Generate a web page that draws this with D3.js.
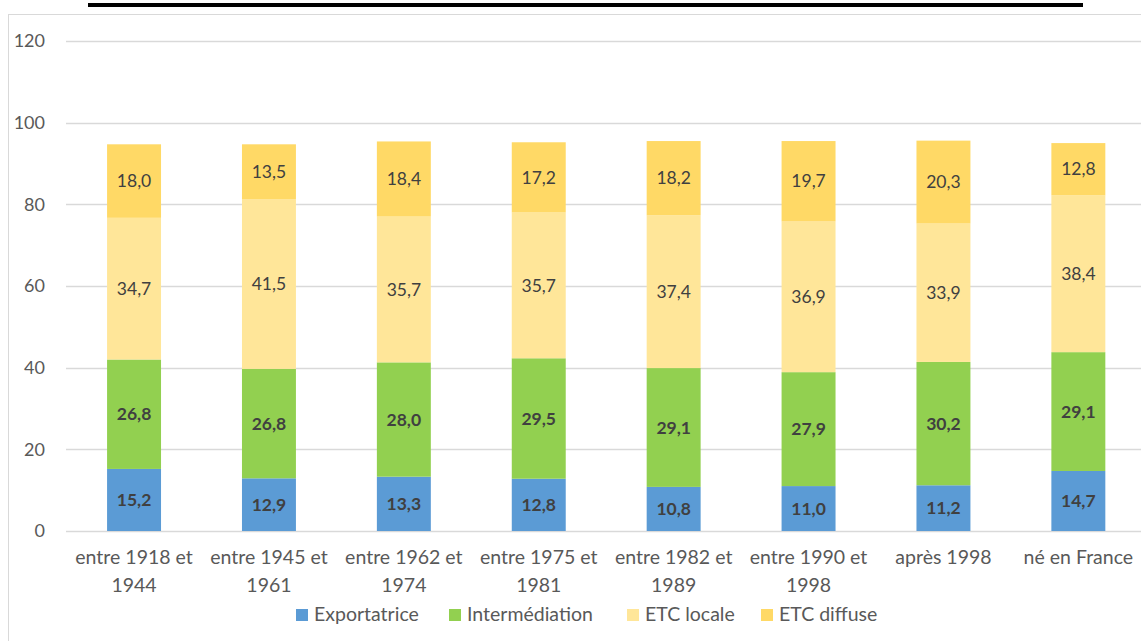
<!DOCTYPE html>
<html><head><meta charset="utf-8">
<script src="https://cdn.jsdelivr.net/npm/d3@7/dist/d3.min.js"></script>
<style>
html,body{margin:0;padding:0;background:#fff;}
svg{display:block;font-family:Lato, "Open Sans", sans-serif;}
</style></head>
<body><svg id="c" width="1141" height="641"></svg>
<script>
const categories = ["entre 1918 et 1944","entre 1945 et 1961","entre 1962 et 1974","entre 1975 et 1981","entre 1982 et 1989","entre 1990 et 1998","après 1998","né en France"];
const seriesNames = ["Exportatrice","Intermédiation","ETC locale","ETC diffuse"];
const exportatrice = [15.2,12.9,13.3,12.8,10.8,11.0,11.2,14.7];
const intermediation = [26.8,26.8,28.0,29.5,29.1,27.9,30.2,29.1];
const etcLocale = [34.7,41.5,35.7,35.7,37.4,36.9,33.9,38.4];
const etcDiffuse = [18.0,13.5,18.4,17.2,18.2,19.7,20.3,12.8];
const yTicks = [0,20,40,60,80,100,120];
const colors = ["#5B9BD5","#92D050","#FFE699","#FFD966"];
const boldLabels = [true,true,false,false];

const rows = categories.map((c,i)=>({cat:c, "Exportatrice":exportatrice[i], "Intermédiation":intermediation[i], "ETC locale":etcLocale[i], "ETC diffuse":etcDiffuse[i]}));
const stack = d3.stack().keys(seriesNames)(rows);

const svg = d3.select("#c");
// chart border
svg.append("rect").attr("x",8.5).attr("y",14.5).attr("width",1145).attr("height",640)
  .attr("fill","none").attr("stroke","#d9d9d9").attr("stroke-width",1);
// clipped title underline
svg.append("rect").attr("x",88).attr("y",3).attr("width",995).attr("height",4).attr("fill","#000");

const x = d3.scaleBand().domain(categories).range([66.6,1145.8]).paddingInner(0.6).paddingOuter(0.3);
const y = d3.scaleLinear().domain([0,120]).range([531,41]);

// gridlines
svg.append("g").selectAll("line").data(yTicks).join("line")
  .attr("x1",66).attr("x2",1141).attr("y1",d=>Math.round(y(d))+0.5).attr("y2",d=>Math.round(y(d))+0.5)
  .attr("stroke","#d9d9d9").attr("stroke-width",1.3);

// y axis
const yAxis = d3.axisLeft(y).tickValues(yTicks).tickSize(0).tickPadding(0).tickFormat(d3.format("d"));
const yg = svg.append("g").attr("transform","translate(45,0)").call(yAxis);
yg.select(".domain").remove();
yg.selectAll("text").attr("font-family","Lato, sans-serif").attr("font-size",18).attr("fill","#595959");

// bars
const layers = svg.append("g").selectAll("g").data(stack).join("g").attr("fill",(d,i)=>colors[i]);
layers.selectAll("rect").data(d=>d).join("rect")
  .attr("x",d=>x(d.data.cat)).attr("width",x.bandwidth())
  .attr("y",d=>y(d[1])).attr("height",d=>y(d[0])-y(d[1]));

// data labels
const lab = svg.append("g");
stack.forEach((s,si)=>{
  lab.selectAll(null).data(s).join("text")
    .attr("x",d=>x(d.data.cat)+x.bandwidth()/2)
    .attr("y",d=>(y(d[0])+y(d[1]))/2)
    .attr("dy","0.35em").attr("text-anchor","middle")
    .attr("font-size",17.5).attr("font-weight",boldLabels[si]?"bold":"normal")
    .attr("fill","#404040")
    .text(d=>d3.format(".1f")(d[1]-d[0]).replace(".",","));
});

// x axis labels
const xAxis = d3.axisBottom(x).tickSize(0).tickPadding(0);
const xg = svg.append("g").attr("transform","translate(0,531)").call(xAxis);
xg.select(".domain").remove();
xg.selectAll("text").attr("font-family","Lato, sans-serif").attr("font-size",19.5).attr("fill","#595959")
  .attr("dy",null).attr("y",0)
  .each(function(d){
    const t = d3.select(this); t.text(null);
    const words = d.split(" "); const lines=[]; let line=[];
    const tmp = t.append("tspan");
    words.forEach(w=>{
      const test = line.concat([w]).join(" ");
      tmp.text(test);
      if (tmp.node().getComputedTextLength()>132 && line.length){ lines.push(line.join(" ")); line=[w]; }
      else line.push(w);
    });
    lines.push(line.join(" "));
    tmp.remove();
    lines.forEach((l,i)=>t.append("tspan").attr("x",0).attr("y",33+i*28).text(l));
  });

// legend
const legendX = [296,449,627,761];
const lg = svg.append("g");
seriesNames.forEach((n,i)=>{
  lg.append("rect").attr("x",legendX[i]).attr("y",609).attr("width",12).attr("height",12).attr("fill",colors[i]);
  lg.append("text").attr("x",legendX[i]+18).attr("y",614).attr("dy","0.35em")
    .attr("font-size",19.5).attr("fill","#595959").text(n);
});
</script></body></html>
